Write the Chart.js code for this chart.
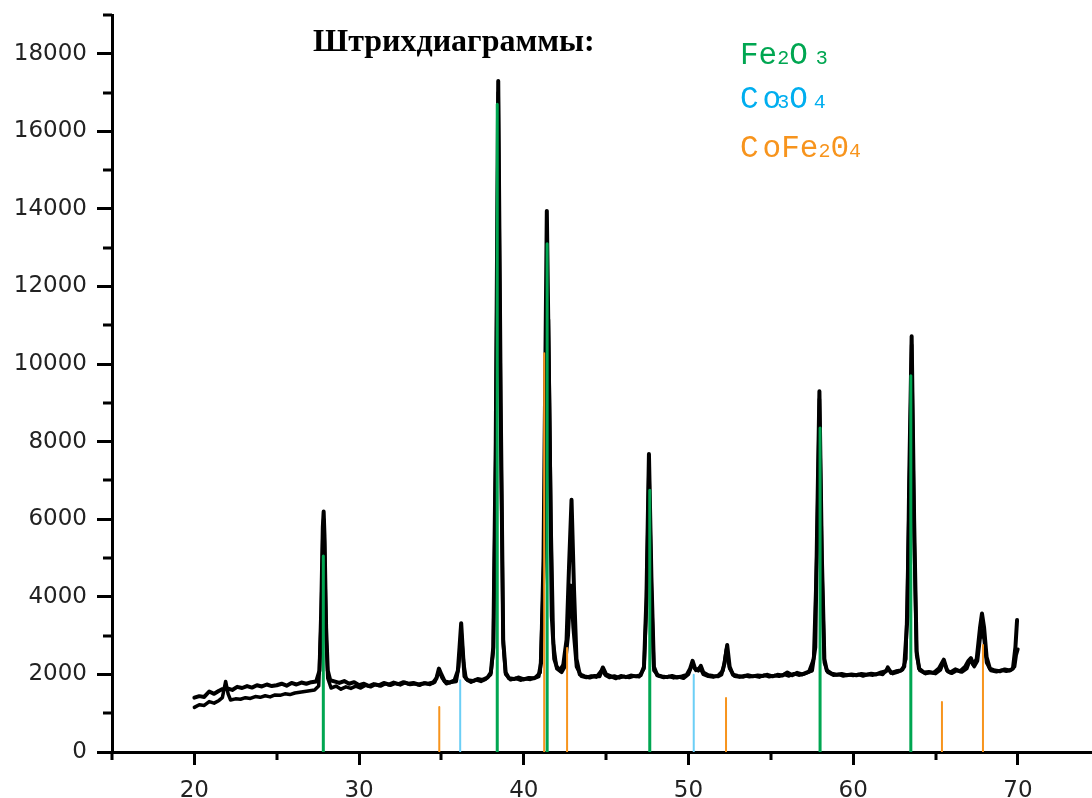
<!DOCTYPE html>
<html>
<head>
<meta charset="utf-8">
<script src="https://cdn.jsdelivr.net/npm/chart.js@4.4.0/dist/chart.umd.min.js"></script>
<style>
  html, body { margin: 0; padding: 0; background: #fff; }
</style>
</head>
<body>
<canvas id="xrdChart" width="1092" height="798"></canvas>
<script>
// 2theta / intensity
const scanUpper = [
  [20.0,1400],[20.3,1440],[20.6,1420],[20.9,1560],[21.2,1500],[21.5,1580],[21.7,1620],[22.0,1640],
  [22.3,1600],[22.6,1680],[22.9,1650],[23.2,1700],[23.5,1660],[23.8,1720],[24.1,1690],[24.4,1740],
  [24.7,1700],[25.0,1720],[25.3,1760],[25.6,1710],[25.9,1780],[26.2,1740],[26.5,1790],[26.8,1760],
  [27.1,1800],[27.4,1820],[27.6,2100],[27.7,3600],[27.8,5800],[27.85,6200],[27.9,5600],[28.0,3200],
  [28.1,2100],[28.25,1850],[28.5,1820],[28.8,1780],[29.1,1830],[29.4,1760],[29.7,1800],[30.0,1720],
  [30.3,1760],[30.6,1700],[30.9,1750],[31.2,1720],[31.5,1780],[31.8,1740],[32.1,1790],[32.4,1750],
  [32.7,1800],[33.0,1760],[33.3,1780],[33.6,1740],[33.9,1770],[34.2,1760],[34.5,1790],[34.7,1900],
  [34.85,2150],[35.0,2000],[35.2,1820],[35.5,1790],[35.8,1850],[36.0,2100],[36.1,2700],[36.2,3320],
  [36.3,2600],[36.4,1950],[36.6,1850],[36.9,1830],[37.2,1880],[37.5,1860],[37.8,1920],[38.0,2050],
  [38.15,2700],[38.3,8000],[38.45,17300],[38.6,9000],[38.75,2900],[38.9,2050],[39.1,1900],[39.4,1880],
  [39.7,1920],[40.0,1870],[40.3,1910],[40.6,1900],[40.9,1950],[41.05,2300],[41.2,5000],[41.4,13950],
  [41.55,9000],[41.7,3500],[41.85,2400],[42.0,2200],[42.2,2100],[42.4,2250],[42.6,2900],[42.75,4800],
  [42.9,6500],[43.05,4200],[43.2,2400],[43.4,2000],[43.7,1950],[44.0,1920],[44.3,1960],[44.6,1950],
  [44.8,2180],[45.0,2000],[45.3,1950],[45.6,1900],[45.9,1960],[46.2,1930],[46.5,1970],[46.8,1950],
  [47.1,1980],[47.3,2200],[47.45,4000],[47.6,7680],[47.75,4500],[47.9,2200],[48.1,1980],[48.4,1950],
  [48.7,1930],[49.0,1960],[49.3,1920],[49.6,1950],[49.9,1990],[50.1,2150],[50.25,2350],[50.4,2150],
  [50.6,2100],[50.75,2220],[50.9,2050],[51.2,1980],[51.5,1960],[51.8,1950],[52.0,2000],[52.2,2300],
  [52.35,2760],[52.5,2200],[52.7,1990],[53.0,1960],[53.3,1940],[53.6,1980],[53.9,1950],[54.2,1970],
  [54.5,1960],[54.8,1990],[55.1,1950],[55.4,1990],[55.7,1970],[56.0,2050],[56.3,1980],[56.6,2040],
  [56.9,2000],[57.2,2050],[57.5,2100],[57.7,2700],[57.8,5500],[57.95,9300],[58.1,5000],[58.25,2400],
  [58.4,2100],[58.7,2020],[59.0,1990],[59.3,2010],[59.6,1980],[59.9,2000],[60.2,1980],[60.5,2010],
  [60.8,1990],[61.1,2020],[61.4,2000],[61.7,2050],[62.0,2080],[62.1,2180],[62.3,2040],[62.6,2080],
  [62.9,2100],[63.1,2200],[63.3,3500],[63.4,7000],[63.55,10720],[63.7,6000],[63.85,2600],[64.0,2150],
  [64.3,2050],[64.6,2060],[64.9,2040],[65.2,2150],[65.5,2380],[65.7,2100],[65.9,2050],[66.2,2130],
  [66.5,2080],[66.8,2200],[67.0,2350],[67.15,2420],[67.3,2250],[67.5,2400],[67.7,3200],[67.82,3570],
  [67.95,3200],[68.1,2450],[68.3,2150],[68.6,2100],[68.9,2080],[69.2,2130],[69.5,2100],[69.7,2150],
  [69.85,2700],[69.95,3400]
];

const scanLower = [
  [20.0,1150],[20.3,1220],[20.6,1200],[20.9,1300],[21.2,1260],[21.5,1330],[21.7,1400],[21.9,1820],
  [22.05,1500],[22.2,1340],[22.5,1370],[22.8,1360],[23.1,1400],[23.4,1380],[23.7,1430],[24.0,1410],
  [24.3,1450],[24.6,1420],[24.9,1470],[25.2,1460],[25.5,1500],[25.8,1480],[26.1,1520],[26.4,1540],
  [26.7,1560],[27.0,1580],[27.3,1600],[27.55,1700],[27.7,3400],[27.8,5600],[27.85,6000],[27.9,5400],
  [28.0,3000],[28.1,1900],[28.3,1650],[28.6,1700],[28.9,1620],[29.2,1680],[29.5,1640],[29.8,1700],
  [30.1,1650],[30.4,1720],[30.7,1680],[31.0,1740],[31.3,1700],[31.6,1760],[31.9,1720],[32.2,1770],
  [32.5,1730],[32.8,1790],[33.1,1740],[33.4,1760],[33.7,1720],[34.0,1780],[34.3,1740],[34.6,1800],
  [34.85,2080],[35.05,1900],[35.3,1760],[35.6,1800],[35.9,1820],[36.05,2200],[36.2,3100],[36.35,2300],
  [36.5,1880],[36.8,1800],[37.1,1860],[37.4,1820],[37.7,1880],[38.0,2000],[38.15,2600],[38.3,7600],
  [38.45,17000],[38.6,8600],[38.75,2800],[38.9,2000],[39.2,1860],[39.5,1900],[39.8,1850],[40.1,1890],
  [40.4,1870],[40.7,1920],[41.0,2050],[41.2,4500],[41.5,11150],[41.65,6000],[41.8,2800],[42.0,2150],
  [42.3,2050],[42.5,2200],[42.7,3000],[42.85,4300],[43.0,3200],[43.2,2200],[43.5,1950],[43.8,1920],
  [44.1,1960],[44.4,1930],[44.75,2120],[44.95,1980],[45.2,1920],[45.5,1960],[45.8,1910],[46.1,1950],
  [46.4,1920],[46.7,1960],[47.0,1940],[47.3,2150],[47.45,3800],[47.6,7400],[47.75,4200],[47.9,2100],
  [48.2,1960],[48.5,1920],[48.8,1950],[49.1,1910],[49.4,1940],[49.7,1900],[50.0,2000],[50.25,2280],
  [50.45,2100],[50.7,2180],[50.9,2000],[51.2,1950],[51.5,1930],[51.8,1970],[52.1,2100],[52.3,2650],
  [52.5,2150],[52.8,1950],[53.1,1930],[53.4,1970],[53.7,1940],[54.0,1960],[54.3,1930],[54.6,1980],
  [54.9,1940],[55.2,1970],[55.5,1950],[55.8,2000],[56.1,1960],[56.4,2020],[56.7,1980],[57.0,2010],
  [57.3,2060],[57.6,2400],[57.8,5200],[57.95,9100],[58.1,4800],[58.25,2300],[58.45,2060],[58.8,1980],
  [59.1,2000],[59.4,1960],[59.7,1990],[60.0,1970],[60.3,2000],[60.6,1960],[60.9,2000],[61.2,1980],
  [61.5,2020],[61.8,2000],[62.1,2150],[62.4,2020],[62.7,2060],[63.0,2120],[63.2,2400],[63.4,6500],
  [63.55,10500],[63.7,5600],[63.85,2500],[64.05,2100],[64.4,2020],[64.7,2050],[65.0,2020],[65.3,2120],
  [65.5,2330],[65.75,2070],[66.0,2030],[66.3,2100],[66.6,2060],[66.9,2150],[67.1,2380],[67.35,2200],
  [67.55,2350],[67.7,2900],[67.82,3150],[67.95,2900],[68.1,2300],[68.35,2100],[68.7,2070],[69.0,2110],
  [69.3,2080],[69.6,2120],[69.8,2200],[69.9,2500],[70.0,2650]
];

// reference stick patterns: [2theta, intensity]
const fe2o3Lines = [[27.83,5050],[38.39,16700],[41.42,13100],[47.65,6750],[57.99,8350],[63.5,9700]];
const co3o4Lines = [[36.14,1850],[50.32,1990]];
const cofe2o4Lines = [[34.87,1160],[41.24,10280],[42.63,2680],[52.28,1390],[65.39,1290],[67.88,2760]];

const xMajorTicks = [20, 30, 40, 50, 60, 70];
const xMinorTicks = [15, 25, 35, 45, 55, 65];
const yMajorTicks = [0, 2000, 4000, 6000, 8000, 10000, 12000, 14000, 16000, 18000];
const yMinorTicks = [1000, 3000, 5000, 7000, 9000, 11000, 13000, 15000, 17000, 19000];

const GREEN = '#00a651';
const BLUE = '#00aeef';
const BLUE_STICK = '#6ccff6';
const ORANGE = '#f7941d';

const toPoints = arr => arr.map(p => ({ x: p[0], y: p[1] }));
const sticks = arr => arr.flatMap(p => [{ x: p[0], y: 0 }, { x: p[0], y: p[1] }, { x: p[0], y: null }]);

const labelPlugin = {
  id: 'labels',
  afterDraw(chart) {
    const c = chart.ctx;
    const xs = chart.scales.x, ys = chart.scales.y;
    const area = chart.chartArea;
    c.save();
    // minor ticks
    c.strokeStyle = '#000';
    c.lineWidth = 3;
    c.beginPath();
    xMinorTicks.forEach(v => {
      const px = Math.round(xs.getPixelForValue(v));
      c.moveTo(px, area.bottom);
      c.lineTo(px, area.bottom + 8);
    });
    yMinorTicks.forEach(v => {
      const py = Math.round(ys.getPixelForValue(v));
      c.moveTo(area.left - 9, py);
      c.lineTo(area.left, py);
    });
    c.stroke();

    // heading
    c.fillStyle = '#000';
    c.textBaseline = 'alphabetic';
    c.textAlign = 'left';
    c.font = 'bold 32px "Liberation Serif"';
    c.fillText('Штрихдиаграммы:', 313, 51);

    // legend with small digits
    const drawParts = (parts, x, y, color) => {
      c.fillStyle = color;
      parts.forEach(([txt, size, gap]) => {
        c.font = size + 'px "Liberation Mono"';
        c.fillText(txt, x, y);
        x += c.measureText(txt).width + (gap || 0);
      });
    };
    drawParts([['Fe', 31], ['2', 20], ['O', 31, 8], ['3', 20]], 740, 64, GREEN);
    drawParts([['C', 31, 4], ['o', 31, -4], ['3', 20], ['O', 31, 6], ['4', 20]], 740, 108, BLUE);
    drawParts([['C', 31, 4], ['oFe', 31], ['2', 20], ['0', 31], ['4', 20]], 740, 157, ORANGE);
    c.restore();
  }
};

new Chart(document.getElementById('xrdChart'), {
  type: 'line',
  data: {
    datasets: [
      { data: sticks(fe2o3Lines), borderColor: GREEN, borderWidth: 3, order: 0 },
      { data: sticks(cofe2o4Lines), borderColor: ORANGE, borderWidth: 2, order: 0 },
      { data: toPoints(scanUpper), borderColor: '#000', borderWidth: 4, order: 1 },
      { data: toPoints(scanLower), borderColor: '#000', borderWidth: 3.5, order: 2 },
      { data: sticks(co3o4Lines), borderColor: BLUE_STICK, borderWidth: 2, order: 3 }
    ]
  },
  options: {
    responsive: false,
    animation: false,
    spanGaps: false,
    elements: {
      point: { radius: 0 },
      line: { tension: 0, borderJoinStyle: 'round', borderCapStyle: 'round' }
    },
    layout: { padding: { top: 15, right: 0, left: 0, bottom: 0 } },
    plugins: { legend: { display: false }, tooltip: { enabled: false } },
    scales: {
      x: {
        type: 'linear',
        min: 15,
        max: 74.5,
        afterBuildTicks: s => { s.ticks = xMajorTicks.map(v => ({ value: v })); },
        afterFit: s => { s.height = 46; s.paddingLeft = 0; s.paddingRight = 0; },
        grid: { drawOnChartArea: false, drawTicks: true, tickLength: 13, tickColor: '#000', tickWidth: 3 },
        border: { display: true, color: '#000', width: 3 },
        ticks: { color: '#222', padding: 12, maxRotation: 0, font: { family: 'DejaVu Sans', size: 23 } }
      },
      y: {
        type: 'linear',
        min: 0,
        max: 19000,
        afterBuildTicks: s => { s.ticks = yMajorTicks.map(v => ({ value: v })); },
        afterFit: s => { s.width = 112; s.paddingTop = 0; s.paddingBottom = 0; },
        grid: { drawOnChartArea: false, drawTicks: true, tickLength: 15, tickColor: '#000', tickWidth: 3 },
        border: { display: true, color: '#000', width: 3 },
        ticks: { color: '#222', padding: 10, callback: v => String(v), font: { family: 'DejaVu Sans', size: 23 } }
      }
    }
  },
  plugins: [labelPlugin]
});
</script>
</body>
</html>
